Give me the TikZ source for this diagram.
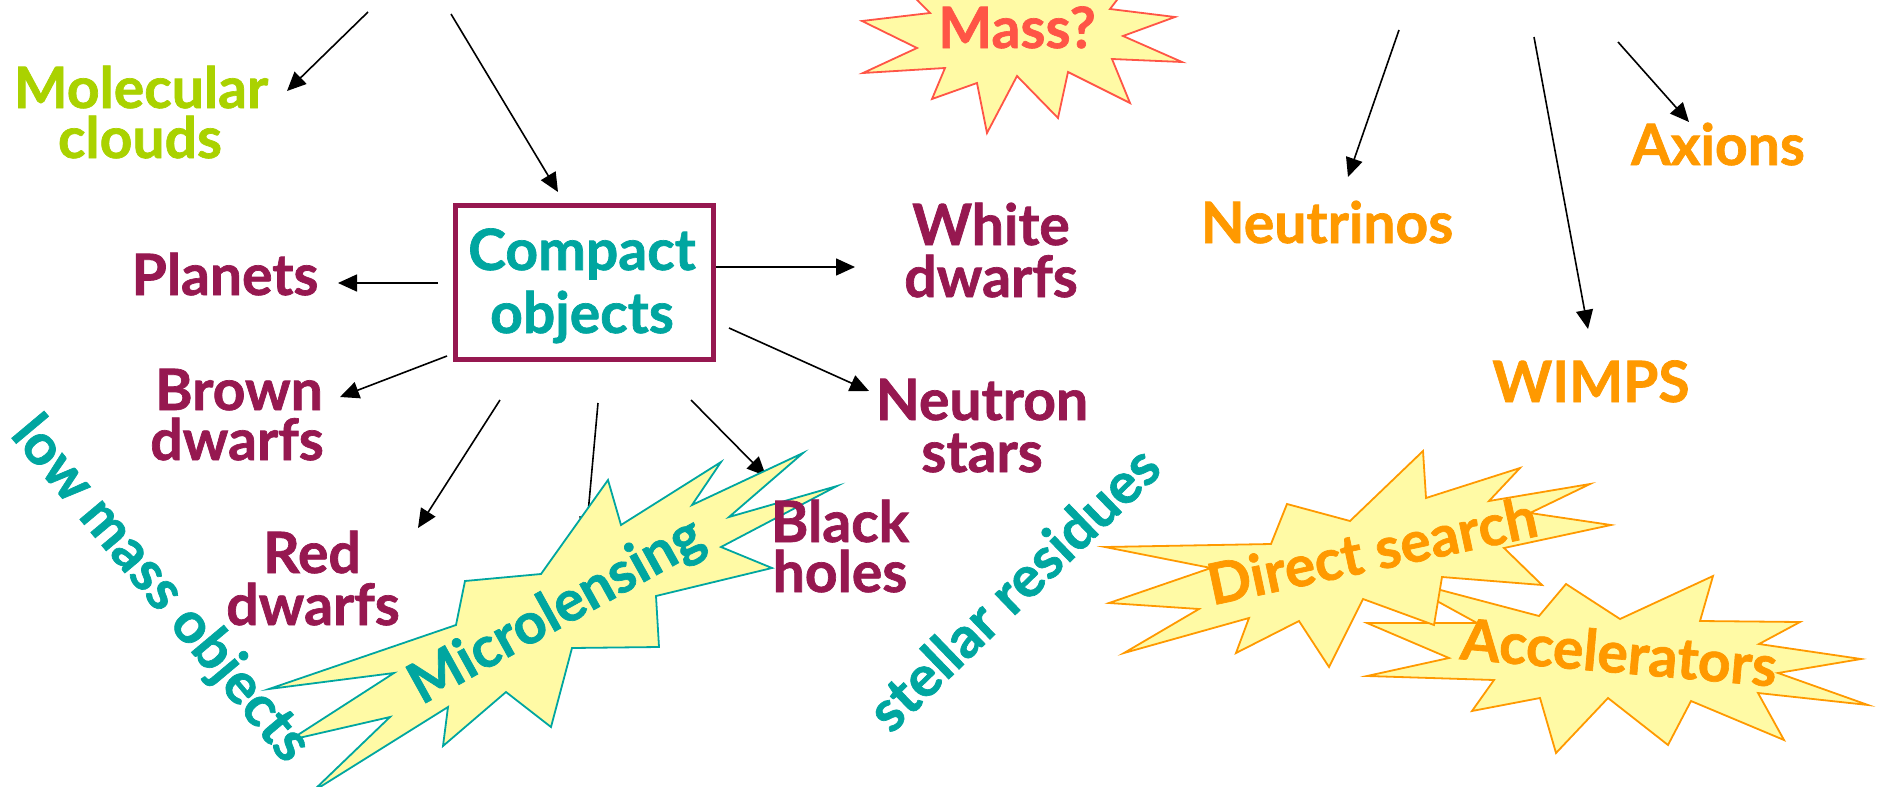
\documentclass[tikz,border=0pt]{standalone}
\usepackage{fontspec}
\setmainfont{Lato}[BoldFeatures={FakeBold=1.2}]
\usetikzlibrary{arrows.meta}
\definecolor{cMaroon}{RGB}{150,24,80}
\definecolor{cTeal}{RGB}{0,166,160}
\definecolor{cGreen}{RGB}{170,210,0}
\definecolor{cOrange}{RGB}{255,153,0}
\definecolor{cRed}{RGB}{255,85,70}
\definecolor{cBurst}{RGB}{255,250,165}
\begin{document}
\begin{tikzpicture}[x=1pt,y=-1pt,
  lbl/.style={font=\fontsize{57}{52}\selectfont\bfseries, inner sep=0pt, anchor=base},
  rlbl/.style={font=\fontsize{57}{52}\selectfont\bfseries, inner sep=0pt, anchor=center},
  arr/.style={line width=1.6pt, -{Triangle[length=19pt,width=17pt]}},
  burst/.style={line width=1.8pt, fill=cBurst, line join=miter}]
\useasboundingbox (0,0) rectangle (1877,787);
\clip (0,0) rectangle (1877,787);
% arrow end points
\coordinate (mcS) at (368,12);  \coordinate (mcE) at (287,91);
\coordinate (coS) at (451,14);  \coordinate (coE) at (558,192);
\coordinate (plS) at (438,283); \coordinate (plE) at (338,283);
\coordinate (bdS) at (447,356); \coordinate (bdE) at (340,397);
\coordinate (rdS) at (500,400); \coordinate (rdE) at (418,528);
\coordinate (mlS) at (598,403); \coordinate (mlE) at (586,536);
\coordinate (bhS) at (691,400); \coordinate (bhE) at (766,476);
\coordinate (wdS) at (713,267); \coordinate (wdE) at (855,267);
\coordinate (nsS) at (729,328); \coordinate (nsE) at (869,391);
\coordinate (nuS) at (1399,30); \coordinate (nuE) at (1348,177);
\coordinate (wiS) at (1534,37); \coordinate (wiE) at (1588,329);
\coordinate (axS) at (1618,42); \coordinate (axE) at (1689,122);
\foreach \a in {mc,co,pl,bd,rd,ml,bh,wd,ns,nu,wi,ax}
  \draw[arr] (\a S) -- (\a E);
% box
\node[draw=cMaroon, line width=5pt, minimum width=258pt, minimum height=154pt, inner sep=0pt] (box) at (584,282) {};
% starbursts
\draw[burst, draw=cRed] (878,-40) -- (930,13) -- (862,21) -- (917,48) -- (863,73) -- (945,68) -- (932,99) -- (977,83) -- (987,133) -- (1017,76) -- (1058,118) -- (1068,72) -- (1130,103) -- (1112,59) -- (1182,62) -- (1123,36) -- (1175,17) -- (1110,9) -- (1148,-40) -- cycle;
\draw[burst, draw=cTeal] (269,689) -- (394,673) -- (290,740) -- (390,717) -- (312,792) -- (448,707) -- (443,746) -- (506,692) -- (551,727) -- (572,648) -- (659,647) -- (656,596) -- (772,568) -- (721,547) -- (837,486) -- (729,517) -- (803,453) -- (692,505) -- (721,462) -- (621,525) -- (608,480) -- (541,574) -- (465,581) -- (456,625) -- cycle;
\draw[burst, draw=cOrange] (1367,623) -- (1477,623) -- (1395,578) -- (1539,616) -- (1566,584) -- (1620,619) -- (1713,576) -- (1700,621) -- (1800,622) -- (1759,644) -- (1861,659) -- (1778,673) -- (1868,705) -- (1758,693) -- (1784,740) -- (1691,701) -- (1668,745) -- (1608,698) -- (1556,753) -- (1540,698) -- (1472,711) -- (1494,680) -- (1367,676) -- (1449,658) -- cycle;
\draw[burst, draw=cOrange] (1105,547) -- (1271,544) -- (1287,504) -- (1350,521) -- (1423,451) -- (1426,498) -- (1520,468) -- (1489,501) -- (1590,484) -- (1530,513) -- (1611,525) -- (1504,548) -- (1542,585) -- (1442,577) -- (1434,625) -- (1363,599) -- (1329,667) -- (1299,621) -- (1236,653) -- (1249,618) -- (1124,653) -- (1199,609) -- (1109,603) -- (1211,568) -- cycle;
% labels
\node[lbl, cGreen] (mol1) at (141,108) {Molecular};
\node[lbl, cGreen] (mol2) at (140,158) {clouds};
\node[lbl, cTeal] (comp1) at (582,270) {Compact};
\node[lbl, cTeal] (comp2) at (582,333) {objects};
\node[lbl, cMaroon] (plan) at (225,295) {Planets};
\node[lbl, cMaroon] (brown1) at (239,410) {Brown};
\node[lbl, cMaroon] (brown2) at (237,460) {dwarfs};
\node[lbl, cMaroon] (red1) at (312,573) {Red};
\node[lbl, cMaroon] (red2) at (313,625) {dwarfs};
\node[lbl, cMaroon] (white1) at (991,245) {White};
\node[lbl, cMaroon] (white2) at (991,297) {dwarfs};
\node[lbl, cMaroon] (neut1) at (982,420) {Neutron};
\node[lbl, cMaroon] (neut2) at (982,472) {stars};
\node[lbl, cMaroon] (black1) at (840,542) {Black};
\node[lbl, cMaroon] (black2) at (840,592) {holes};
\node[lbl, cOrange] (nu) at (1327,243) {Neutrinos};
\node[lbl, cOrange] (ax) at (1718,165) {Axions};
\node[lbl, cOrange] (wimps) at (1591,402) {WIMPS};
\node[lbl, cRed] (mass) at (1017,48) {Mass?};
\node[rlbl, cTeal, rotate=29] (micro) at (557,612) {Microlensing};
\node[rlbl, cTeal, rotate=-50] (low) at (160,590) {low mass objects};
\node[rlbl, cTeal, rotate=44] (stellar) at (1013,588) {stellar residues};
\node[rlbl, cOrange, rotate=12] (direct) at (1372,550) {Direct search};
\node[rlbl, cOrange, rotate=-5] (accel) at (1619,652) {Accelerators};
\end{tikzpicture}
\end{document}
